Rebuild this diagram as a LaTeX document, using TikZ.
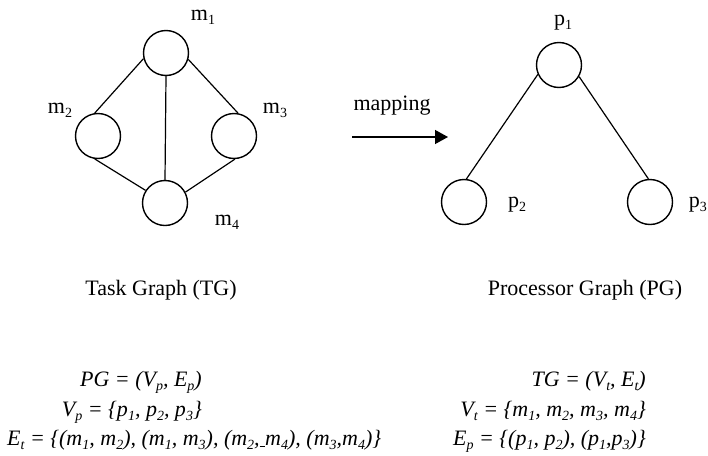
\documentclass[tikz,border=0pt]{standalone}
\usepackage{fontspec}
\setmainfont{Liberation Serif}
\usetikzlibrary{arrows.meta}
\newcommand{\sbs}[1]{\raisebox{-0.22em}{\fontsize{14}{14}\selectfont #1}}

\begin{document}
\begin{tikzpicture}[x=1pt, y=-1pt,
    vert/.style={draw, circle, line width=1.4pt, minimum size=45pt, inner sep=0pt},
    lbl/.style={anchor=base, inner sep=0pt, font=\fontsize{22}{26}\selectfont},
    eqn/.style={inner sep=0pt, font=\fontsize{22}{26}\selectfont\itshape},
    edge/.style={line width=1.2pt}
]
\useasboundingbox (0,0) rectangle (708,455);

% task graph
\node[vert] (m1) at (166,53) {};
\node[vert] (m2) at (98,136) {};
\node[vert] (m3) at (234,136) {};
\node[vert] (m4) at (165,203) {};
\node[lbl] (lm1) at (203,20) {m\sbs{1}};
\node[lbl] (lm2) at (60,113) {m\sbs{2}};
\node[lbl] (lm3) at (275,113) {m\sbs{3}};
\node[lbl] (lm4) at (227,225) {m\sbs{4}};

\draw[edge] (m1.194) -- (m2.98);
\draw[edge] (m1.344) -- (m3.80);
\draw[edge] (m1.south) -- (m4.north);
\draw[edge] (m2.262) -- (m4.147);
\draw[edge] (m3.272) -- (m4.28);

% processor graph
\node[vert] (p1) at (559,65) {};
\node[vert] (p2) at (464,202) {};
\node[vert] (p3) at (650,202) {};
\node[lbl] (lp1) at (563,25) {p\sbs{1}};
\node[lbl] (lp2) at (517,207) {p\sbs{2}};
\node[lbl, anchor=base east] (lp3) at (707,207) {p\sbs{3}};

\draw[edge] (p1.204) -- (p2.84);
\draw[edge] (p1.330) -- (p3.94);

% mapping arrow
\coordinate (mapL) at (352,137);
\coordinate (mapR) at (448,137);
\draw[line width=1.3pt, -{Triangle[length=13pt, width=14pt]}] (mapL) -- (mapR);
\node[lbl] (map) at (392,110) {mapping};

\node[lbl] (tg) at (161,295) {Task Graph (TG)};
\node[lbl] (pg) at (585,295) {Processor Graph (PG)};

% definitions
\node[eqn, anchor=base east] (pgdef) at (202,386) {PG = (V\sbs{p}, E\sbs{p})};
\node[eqn, anchor=base east] (vpdef) at (202,416) {V\sbs{p} = \{p\sbs{1}, p\sbs{2}, p\sbs{3}\}};
\node[eqn, anchor=base west] (etdef) at (7,445) {E\sbs{t} = \{(m\sbs{1}, m\sbs{2}), (m\sbs{1}, m\sbs{3}), (m\sbs{2},\underline{\ }m\sbs{4}), (m\sbs{3},m\sbs{4})\}};
\node[eqn, anchor=base east] (tgdef) at (646,386) {TG = (V\sbs{t}, E\sbs{t})};
\node[eqn, anchor=base east] (vtdef) at (646,416) {V\sbs{t} = \{m\sbs{1}, m\sbs{2}, m\sbs{3}, m\sbs{4}\}};
\node[eqn, anchor=base east] (epdef) at (646,445) {E\sbs{p} = \{(p\sbs{1}, p\sbs{2}), (p\sbs{1},p\sbs{3})\}};
\end{tikzpicture}
\end{document}
